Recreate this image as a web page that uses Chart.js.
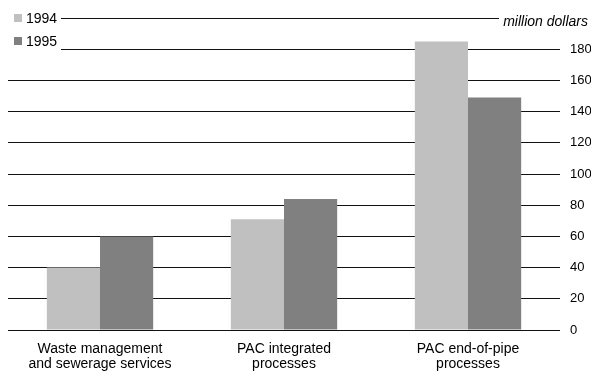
<!DOCTYPE html>
<html>
<head>
<meta charset="utf-8">
<script src="https://cdn.jsdelivr.net/npm/chart.js@4/dist/chart.umd.min.js"></script>
<style>
  html, body { margin: 0; padding: 0; background: #fff; }
  #wrap { width: 591px; height: 375px; }
</style>
</head>
<body>
<div id="wrap"><canvas id="c" width="591" height="375"></canvas></div>
<script>
// Environmental protection spending by activity, million dollars
const categories = [
  ['Waste management', 'and sewerage services'],
  ['PAC integrated', 'processes'],
  ['PAC end-of-pipe', 'processes']
];
const seriesNames = ['1994', '1995'];
const values1994 = [40, 71, 185];
const values1995 = [60, 84, 149];
const yTicks = [0, 20, 40, 60, 80, 100, 120, 140, 160, 180, 200];
const unitLabel = 'million dollars';

const colors = ['#c0c0c0', '#808080'];
const FONT = '"Liberation Sans", Arial, sans-serif';

// Legend in the top-left corner and unit label on the top gridline
const overlay = {
  id: 'overlay',
  afterDraw(chart) {
    const ctx = chart.ctx;
    const area = chart.chartArea;
    ctx.save();
    ctx.fillStyle = '#fff';
    ctx.fillRect(area.left - 1, 8, 62 - area.left, 48);
    ctx.font = '14px ' + FONT;
    ctx.textBaseline = 'alphabetic';
    ctx.textAlign = 'left';
    const rows = [{ y: 14, base: 23 }, { y: 37, base: 46 }];
    seriesNames.forEach((name, i) => {
      ctx.fillStyle = colors[i];
      ctx.fillRect(14, rows[i].y, 8, 8);
      ctx.fillStyle = '#000';
      ctx.fillText(name, 26, rows[i].base);
    });
    // unit label
    ctx.fillStyle = '#fff';
    ctx.fillRect(499, 8, area.right - 498, 20);
    ctx.fillStyle = '#000';
    ctx.font = 'italic 14px ' + FONT;
    ctx.textAlign = 'right';
    ctx.fillText(unitLabel, 588, 25.5);
    ctx.restore();
  }
};

new Chart(document.getElementById('c'), {
  type: 'bar',
  data: {
    labels: categories,
    datasets: [
      { label: seriesNames[0], data: values1994, backgroundColor: colors[0] },
      { label: seriesNames[1], data: values1995, backgroundColor: colors[1] }
    ]
  },
  options: {
    responsive: false,
    animation: false,
    devicePixelRatio: 1,
    layout: { padding: { left: 8, top: 18, right: 0, bottom: 0 } },
    datasets: { bar: { barPercentage: 1, categoryPercentage: 0.578 } },
    plugins: { legend: { display: false }, tooltip: { enabled: false } },
    scales: {
      x: {
        grid: { display: false },
        border: { display: false },
        ticks: {
          color: '#000',
          font: { family: FONT, size: 14, lineHeight: 1.1 },
          maxRotation: 0,
          autoSkip: false,
          padding: 3
        },
        afterFit(scale) { scale.height = 45; }
      },
      y: {
        position: 'right',
        min: 0,
        max: 200,
        afterBuildTicks(scale) { scale.ticks = yTicks.map(v => ({ value: v })); },
        grid: { color: '#111', lineWidth: 1, drawTicks: false },
        border: { display: false },
        ticks: {
          color: '#000',
          font: { family: FONT, size: 13 },
          padding: 10,
          callback: v => (v === 200 ? '' : String(v))
        },
        afterFit(scale) { scale.width = 31; }
      }
    }
  },
  plugins: [overlay]
});
</script>
</body>
</html>
